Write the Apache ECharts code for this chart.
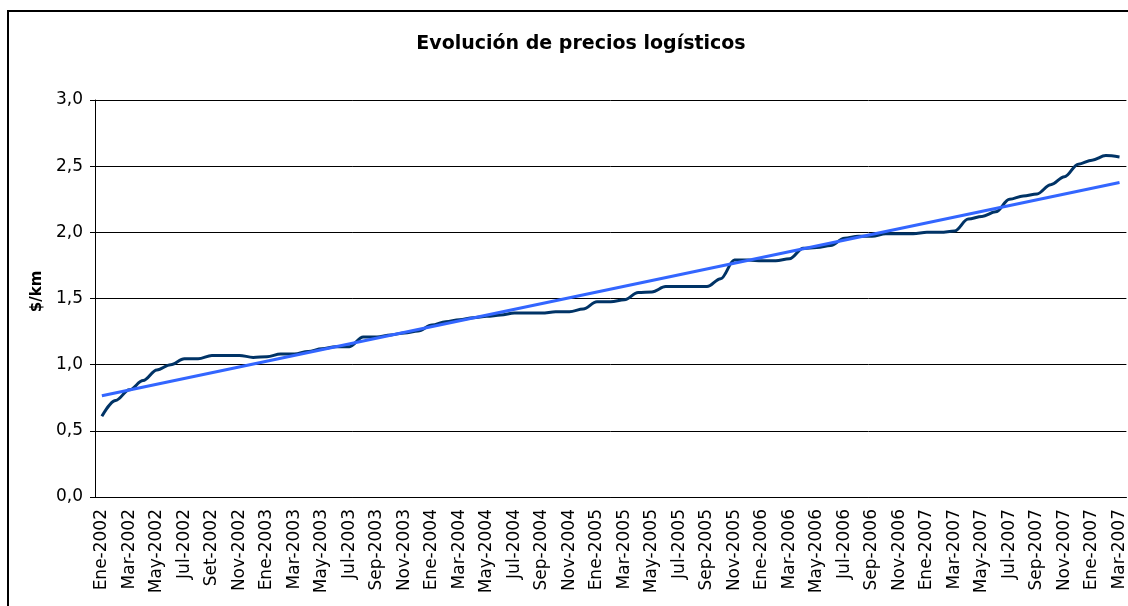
<!DOCTYPE html>
<html>
<head>
<meta charset="utf-8">
<script src="https://cdn.jsdelivr.net/npm/echarts@6/dist/echarts.min.js"></script>
<style>
  html, body { margin: 0; padding: 0; background: #fff; }
  #chart { width: 1128px; height: 606px; }
</style>
</head>
<body>
<div id="chart"></div>
<script>
// categorias (mensuales, se rotula una de cada dos)
var meses = [
  'Ene-2002','Feb-2002','Mar-2002','Abr-2002','May-2002','Jun-2002','Jul-2002','Ago-2002','Set-2002','Oct-2002','Nov-2002','Dic-2002',
  'Ene-2003','Feb-2003','Mar-2003','Abr-2003','May-2003','Jun-2003','Jul-2003','Ago-2003','Sep-2003','Oct-2003','Nov-2003','Dic-2003',
  'Ene-2004','Feb-2004','Mar-2004','Abr-2004','May-2004','Jun-2004','Jul-2004','Ago-2004','Sep-2004','Oct-2004','Nov-2004','Dic-2004',
  'Ene-2005','Feb-2005','Mar-2005','Abr-2005','May-2005','Jun-2005','Jul-2005','Ago-2005','Sep-2005','Oct-2005','Nov-2005','Dic-2005',
  'Ene-2006','Feb-2006','Mar-2006','Abr-2006','May-2006','Jun-2006','Jul-2006','Ago-2006','Sep-2006','Oct-2006','Nov-2006','Dic-2006',
  'Ene-2007','Feb-2007','Mar-2007','Abr-2007','May-2007','Jun-2007','Jul-2007','Ago-2007','Sep-2007','Oct-2007','Nov-2007','Dic-2007',
  'Ene-2007','Feb-2007','Mar-2007'
];
// precio $/km
var precios = [
  0.61, 0.73, 0.81, 0.88, 0.96, 1.00, 1.045, 1.045, 1.07, 1.07, 1.07, 1.055,
  1.06, 1.08, 1.08, 1.10, 1.12, 1.135, 1.135, 1.21, 1.21, 1.225, 1.24, 1.255,
  1.30, 1.325, 1.34, 1.355, 1.365, 1.375, 1.39, 1.39, 1.39, 1.40, 1.40, 1.42,
  1.475, 1.475, 1.49, 1.545, 1.55, 1.59, 1.59, 1.59, 1.59, 1.65, 1.79, 1.79,
  1.785, 1.785, 1.80, 1.88, 1.885, 1.90, 1.955, 1.97, 1.97, 1.99, 1.99, 1.99,
  2.00, 2.00, 2.01, 2.10, 2.12, 2.155, 2.25, 2.275, 2.29, 2.36, 2.42, 2.515,
  2.545, 2.58, 2.57
];
// tendencia lineal: extremos
var tendencia = [0.765, 2.377];
var yTicks = [0, 0.5, 1, 1.5, 2, 2.5, 3];

var myChart = echarts.init(document.getElementById('chart'));
var FONT = 'DejaVu Sans, Verdana, sans-serif';

var option = {
  backgroundColor: '#fff',
  animation: false,
  textStyle: { fontFamily: FONT },
  title: {
    text: 'Evolución de precios logísticos',
    left: 576,
    top: 30,
    textAlign: 'center',
    textStyle: { fontFamily: FONT, fontSize: 19, fontWeight: 'bold', color: '#000' }
  },
  graphic: [{
    type: 'rect',
    shape: { x: 8, y: 11, width: 1200, height: 700 },
    style: { fill: 'none', stroke: '#000', lineWidth: 2 },
    silent: true
  }],
  grid: { left: 95, top: 100, width: 1034, height: 397 },
  xAxis: {
    type: 'category',
    data: meses,
    boundaryGap: true,
    axisLine: { lineStyle: { color: '#000', width: 1 } },
    axisTick: { interval: 0, length: 5, lineStyle: { color: '#000' } },
    axisLabel: {
      interval: 1,
      rotate: 90,
      margin: 12,
      fontSize: 17,
      color: '#000',
      fontFamily: FONT
    },
    splitLine: { show: false }
  },
  yAxis: {
    type: 'value',
    min: yTicks[0],
    max: yTicks[yTicks.length - 1],
    interval: 0.5,
    name: '$/km',
    nameLocation: 'middle',
    nameGap: 48,
    nameTextStyle: { fontFamily: FONT, fontSize: 15, fontWeight: 'bold', color: '#000', padding: [0, 0, 0, 14] },
    axisLine: { show: true, lineStyle: { color: '#000', width: 1 } },
    axisTick: { show: true, length: 5, lineStyle: { color: '#000' } },
    axisLabel: {
      margin: 12,
      fontSize: 17,
      color: '#000',
      fontFamily: FONT,
      formatter: function (v) { return v.toFixed(1).replace('.', ','); }
    },
    splitLine: { show: true, lineStyle: { color: '#000', width: 1 } }
  },
  series: [
    {
      name: 'Precio',
      type: 'line',
      data: precios,
      smooth: 0.35,
      smoothMonotone: 'x',
      showSymbol: false,
      lineStyle: { color: '#003366', width: 3 },
      z: 3
    },
    {
      name: 'Tendencia',
      type: 'line',
      data: [[0, tendencia[0]], [meses.length - 1, tendencia[1]]],
      showSymbol: false,
      lineStyle: { color: '#3366FF', width: 3 },
      z: 4
    }
  ]
};

myChart.setOption(option);
window.addEventListener('resize', function () { myChart.resize(); });
</script>
</body>
</html>
